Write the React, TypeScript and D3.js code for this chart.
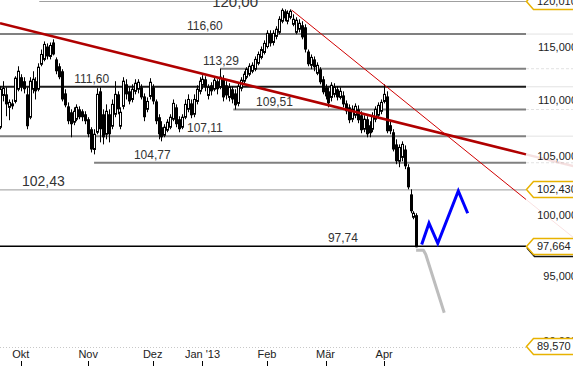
import * as d3 from "d3";

// one candle per trading day, index 0 = 20 Sep 2012
const opens = [
  107.91, 110.8, 110.9, 109.71, 110.07, 110.25, 111.37, 112.49, 112.12, 110.9,
  108.81, 111.37, 112.12, 111.37, 113.71, 114.17, 115.4, 114.45, 115.79, 114.17,
  113.52, 113.05, 110.99, 109.8, 109.26, 108.36, 108.63, 109.53, 109.35, 109.08,
  108.63, 107.73, 105.93, 107.46, 111.18, 109.08, 107.28, 109.08, 108.0, 109.08,
  110.9, 108.0, 109.8, 111.83, 111.18, 110.43, 111.18, 111.37, 111.55, 110.71,
  109.53, 110.71, 111.55, 110.25, 108.81, 107.91, 107.19, 107.64, 107.91, 108.63,
  109.71, 108.63, 107.91, 108.81, 109.53, 110.07, 109.08, 110.25, 111.18, 111.74,
  112.3, 110.8, 111.74, 111.37, 112.12, 111.55, 112.3, 111.74, 110.62, 111.37,
  110.99, 110.07, 111.46, 112.12, 112.49, 112.77, 113.05, 113.24, 113.8, 114.36,
  114.83, 115.4, 116.67, 115.79, 116.38, 116.77, 117.85, 118.83, 117.85, 118.24,
  117.55, 116.77, 117.07, 117.46, 117.26, 114.92, 113.61, 114.17, 112.86, 113.24,
  112.3, 111.55, 111.18, 110.62, 110.9, 111.37, 110.62, 110.8, 110.07, 109.71,
  108.63, 108.99, 109.53, 108.99, 107.73, 108.63, 108.09, 107.73, 108.63, 108.99,
  109.35, 110.25, 110.71, 108.09, 107.46, 106.38, 104.9, 105.24, 105.93, 104.38,
  102.05, 100.13, 100.3,
];
const highs = [
  111.65, 112.12, 111.55, 110.43, 110.43, 112.58, 113.52, 112.77, 112.49, 111.55,
  112.49, 113.05, 112.49, 113.8, 115.11, 115.89, 115.7, 115.79, 116.09, 114.36,
  113.8, 113.24, 111.37, 110.16, 109.53, 109.71, 109.98, 109.8, 109.53, 109.35,
  108.81, 107.91, 107.73, 111.46, 111.55, 109.53, 109.98, 109.53, 110.43, 112.12,
  111.18, 109.71, 112.49, 112.3, 111.55, 111.83, 112.3, 112.3, 111.83, 110.99,
  110.62, 112.4, 111.83, 110.43, 109.08, 108.45, 108.18, 108.63, 109.08, 110.43,
  109.98, 108.9, 109.08, 110.43, 110.9, 110.43, 110.9, 111.74, 112.49, 112.68,
  112.58, 111.83, 112.02, 112.49, 112.3, 113.29, 112.68, 112.12, 111.93, 111.65,
  111.37, 111.93, 112.49, 113.05, 113.43, 113.8, 113.89, 114.45, 114.92, 115.4,
  115.99, 116.97, 116.97, 116.97, 117.36, 118.34, 119.12, 119.02, 118.92, 119.02,
  118.53, 118.24, 118.04, 117.85, 117.55, 115.11, 114.64, 114.45, 113.89, 113.43,
  112.58, 111.83, 111.55, 112.02, 111.93, 111.65, 111.55, 111.18, 110.34, 109.98,
  109.89, 110.07, 109.89, 109.35, 108.99, 108.9, 108.45, 109.26, 109.8, 110.16,
  110.43, 111.83, 111.18, 108.45, 107.73, 106.83, 106.38, 106.65, 106.29, 104.64,
  102.48, 100.63, 100.46,
];
const lows = [
  107.73, 110.25, 108.9, 108.54, 109.53, 110.07, 111.18, 111.18, 110.99, 107.73,
  108.63, 110.99, 110.43, 111.18, 113.52, 113.99, 114.17, 114.17, 114.55, 112.77,
  112.3, 110.25, 109.71, 108.18, 107.01, 108.09, 108.45, 108.63, 108.45, 108.18,
  107.01, 105.67, 105.5, 107.28, 106.56, 106.38, 106.83, 106.56, 107.73, 108.81,
  109.08, 107.73, 109.53, 110.43, 109.98, 110.16, 110.9, 110.99, 110.43, 108.45,
  109.26, 110.43, 109.98, 108.18, 106.83, 106.65, 107.01, 107.46, 107.73, 108.45,
  107.91, 107.46, 107.73, 108.63, 109.26, 108.72, 108.81, 109.98, 110.9, 111.37,
  111.18, 110.43, 110.8, 111.18, 110.9, 111.37, 110.25, 110.43, 110.25, 110.07,
  109.51, 109.8, 111.18, 111.93, 112.3, 112.58, 112.86, 113.05, 113.61, 114.17,
  114.64, 115.21, 115.4, 115.5, 116.09, 116.58, 117.65, 117.85, 117.55, 118.04,
  117.36, 116.58, 116.77, 116.09, 114.83, 113.52, 113.24, 113.05, 112.68, 111.83,
  110.9, 110.43, 109.71, 110.25, 110.62, 110.34, 110.43, 109.71, 109.08, 108.27,
  108.36, 108.72, 108.27, 107.37, 107.46, 107.01, 107.01, 107.46, 108.36, 108.81,
  109.08, 110.07, 107.37, 107.28, 105.76, 104.64, 104.38, 104.9, 104.21, 102.48,
  100.46, 99.96, 97.66,
];
const closes = [
  111.37, 111.46, 109.98, 110.16, 109.8, 112.4, 113.05, 111.55, 111.37, 108.0,
  112.12, 112.3, 111.18, 113.43, 114.64, 115.6, 114.45, 115.5, 114.64, 113.05,
  112.49, 110.43, 109.89, 108.45, 108.18, 109.35, 109.71, 108.81, 108.81, 108.45,
  107.28, 105.93, 107.28, 110.9, 107.73, 107.01, 109.35, 107.28, 109.98, 110.9,
  109.53, 109.26, 112.12, 110.9, 110.25, 111.37, 111.93, 112.02, 110.62, 108.81,
  110.25, 112.02, 110.25, 108.45, 107.28, 107.01, 107.91, 108.36, 108.81, 110.07,
  108.18, 107.73, 108.81, 109.98, 110.43, 108.99, 110.43, 111.37, 112.12, 112.3,
  111.55, 111.55, 111.18, 112.21, 111.37, 112.49, 110.62, 110.8, 111.55, 110.43,
  109.89, 111.65, 112.21, 112.77, 113.24, 113.52, 113.61, 114.17, 114.64, 115.11,
  115.7, 116.67, 115.7, 116.67, 117.07, 118.04, 118.92, 118.14, 118.63, 118.83,
  118.04, 117.95, 117.65, 116.28, 115.11, 113.71, 114.36, 113.43, 113.61, 112.02,
  111.09, 110.71, 110.07, 111.74, 111.55, 110.62, 111.18, 109.98, 109.35, 108.54,
  109.53, 109.8, 108.54, 107.64, 108.63, 107.28, 107.37, 108.9, 109.53, 109.89,
  110.16, 110.9, 107.55, 107.55, 105.93, 104.9, 106.11, 106.38, 104.46, 102.65,
  100.63, 100.46, 97.66,
];

// month starts (candle index) and their labels
const monthIndex = [7, 30, 52, 69, 91, 111, 131];
const monthLabels = ["Okt", "Nov", "Dez", "Jan '13", "Feb", "Mär", "Apr"];

// horizontal levels: value, index where the line begins (null = left edge), index of label
const levelValues = [120.0, 116.6, 113.29, 111.6, 109.51, 107.11, 104.77, 102.43, 97.74];
const levelStart = [13.3, null, 75, null, 79.5, null, 32, null, null];
const levelLabelAt = [72.3, 63.7, 69.2, 25.2, 87.3, 63.7, 45.6, 7.4, 111.8];

const axisValues = [115, 110, 105, 100, 95, 90];
const tagValues = [120.01, 102.43, 97.664, 89.57];

// trend lines and projections as [index, price]
const trendSlow = [[-0.1, 117.65], [179.4, 105.5]];
const trendSlowFade = [[179.4, 105.5], [195.5, 104.49]];
const trendFast = [[99.45, 118.95], [179.4, 101.62]];
const trendFastFade = [[179.4, 101.62], [195.5, 98.47]];
const projectionUp = [[143.8, 97.89], [146.3, 99.63], [149.3, 97.98], [156.3, 102.34], [159.5, 100.46]];
const projectionDown = [[141.9, 97.42], [144.4, 97.42], [145.2, 97.07], [151.5, 92.48]];

const de = d3.formatLocale({ decimal: ",", thousands: ".", grouping: [3], currency: ["", " €"] });
const fmt2 = de.format(".2f");
const fmt3 = de.format(".3f");

const FONT = "'Liberation Sans', Arial, sans-serif";

export default function App() {
  const W = 573;
  const H = 368;
  const plotRight = 526;

  const x = d3.scaleLinear().domain([0, 142]).range([0.3, 416.4]);
  const y = d3.scaleLog().domain([90, 120]).range([345.5, -0.5]);
  const yc = (v: number) => Math.max(1.5, Math.min(347, y(v)));
  const line = d3.line<number[]>().x(d => x(d[0])).y(d => y(d[1]));

  const candles = d3.range(opens.length).map(i => ({
    i, o: opens[i], h: highs[i], l: lows[i], c: closes[i],
  }));

  const levelStyle = (v: number) => {
    if (v === 111.6) return { stroke: "#1a1a1a", width: 2 };
    if (v === 97.74) return { stroke: "#000", width: 1.5 };
    if (v === 102.43) return { stroke: "#9a9a9a", width: 1 };
    if (v === 120) return { stroke: "#a0a0a0", width: 1 };
    return { stroke: "#808080", width: 2 };
  };
  const labelSize = (v: number) => (v === 120 ? 15 : v === 102.43 ? 14 : 12);

  const tagPath = (cy: number) =>
    `M${plotRight + 0.5},${cy} L${plotRight + 7.5},${cy - 8} L${W + 2},${cy - 8} L${W + 2},${cy + 8} L${plotRight + 7.5},${cy + 8} Z`;

  return (
    <svg
      width={W}
      height={H}
      style={{ position: "absolute", left: 0, top: 0, background: "#fff" }}
      fontFamily={FONT}
    >
      <rect width={W} height={H} fill="#fff" />

      {/* bottom dotted border */}
      <line x1={0} x2={plotRight} y1={347.5} y2={347.5} stroke="#c8c8c8" strokeDasharray="1,2" />

      {/* faint continuation of levels in the axis area */}
      {levelValues.filter(v => v !== 120 && v !== 97.74 && v !== 102.43).map((v, k) => (
        <line key={"f" + k} x1={plotRight} x2={W} y1={y(v)} y2={y(v)}
          stroke="#e2e2e2" strokeDasharray={k % 2 ? "3,2" : undefined} />
      ))}

      {/* level lines */}
      {levelValues.map((v, k) => {
        const s = levelStyle(v);
        const x0 = levelStart[k] === null ? 0 : x(levelStart[k] as number);
        const yy = v === 120 ? yc(v) : y(v);
        return <line key={"l" + k} x1={x0} x2={plotRight} y1={yy} y2={yy} stroke={s.stroke} strokeWidth={s.width} />;
      })}

      {/* candles */}
      {candles.map(d => {
        const cx = Math.round(x(d.i)) + 0.5;
        const up = d.c >= d.o;
        const top = y(Math.max(d.o, d.c));
        const bot = y(Math.min(d.o, d.c));
        const hgt = Math.max(1, bot - top);
        return (
          <g key={d.i}>
            <line x1={cx} x2={cx} y1={y(d.h)} y2={y(d.l)} stroke="#000" strokeWidth={1} />
            {up ? (
              <rect x={cx - 1} y={top} width={2} height={hgt} fill="#fff" stroke="#000" strokeWidth={1} />
            ) : (
              <rect x={cx - 1.5} y={top} width={3} height={hgt} fill="#000" />
            )}
          </g>
        );
      })}

      {/* trend lines */}
      <path d={line(trendSlowFade as number[][]) || ""} stroke="#b00000" strokeOpacity={0.12} strokeWidth={2.5} fill="none" />
      <path d={line(trendFastFade as number[][]) || ""} stroke="#cc0000" strokeOpacity={0.12} strokeWidth={1} fill="none" />
      <path d={line(trendSlow as number[][]) || ""} stroke="#b00000" strokeWidth={2.5} fill="none" />
      <path d={line(trendFast as number[][]) || ""} stroke="#d00000" strokeWidth={1} fill="none" />

      {/* projections */}
      <path d={line(projectionDown as number[][]) || ""} stroke="#bdbdbd" strokeWidth={3} fill="none" strokeLinejoin="round" />
      <path d={line(projectionUp as number[][]) || ""} stroke="#0000ff" strokeWidth={3} fill="none" />

      {/* level labels */}
      {levelValues.map((v, k) => (
        <text key={"t" + k} x={x(levelLabelAt[k])} y={v === 120 ? 7 : y(v) - 4}
          fontSize={labelSize(v)} fill="#333">
          {fmt2(v)}
        </text>
      ))}

      {/* right axis labels */}
      {axisValues.map(v => (
        <text key={"a" + v} x={577} y={y(v) - 4} dy="0.35em" textAnchor="end" fontSize={11} fill="#222">
          {fmt3(v)}
        </text>
      ))}

      {/* price tags */}
      {tagValues.map(v => {
        const cy = Math.round(yc(v) - 1) + 0.5;
        return (
          <g key={"g" + v}>
            {v === 97.664 && (
              <path d={tagPath(cy + 2)} fill="none" stroke="#111" strokeWidth={1.5} transform="translate(1,0)" />
            )}
            <path d={tagPath(cy)} fill="#fff" stroke="#e8b200" strokeWidth={1.5} />
            <text x={537} y={cy} dy="0.36em" fontSize={11} fill="#222">{fmt3(v)}</text>
          </g>
        );
      })}

      {/* time axis */}
      {monthIndex.map((m, k) => (
        <g key={"m" + k}>
          <text x={x(m)} y={358} textAnchor="middle" fontSize={11} fill="#222">{monthLabels[k]}</text>
          <line x1={Math.round(x(m)) + 0.5} x2={Math.round(x(m)) + 0.5} y1={361} y2={366} stroke="#000" />
        </g>
      ))}
    </svg>
  );
}
